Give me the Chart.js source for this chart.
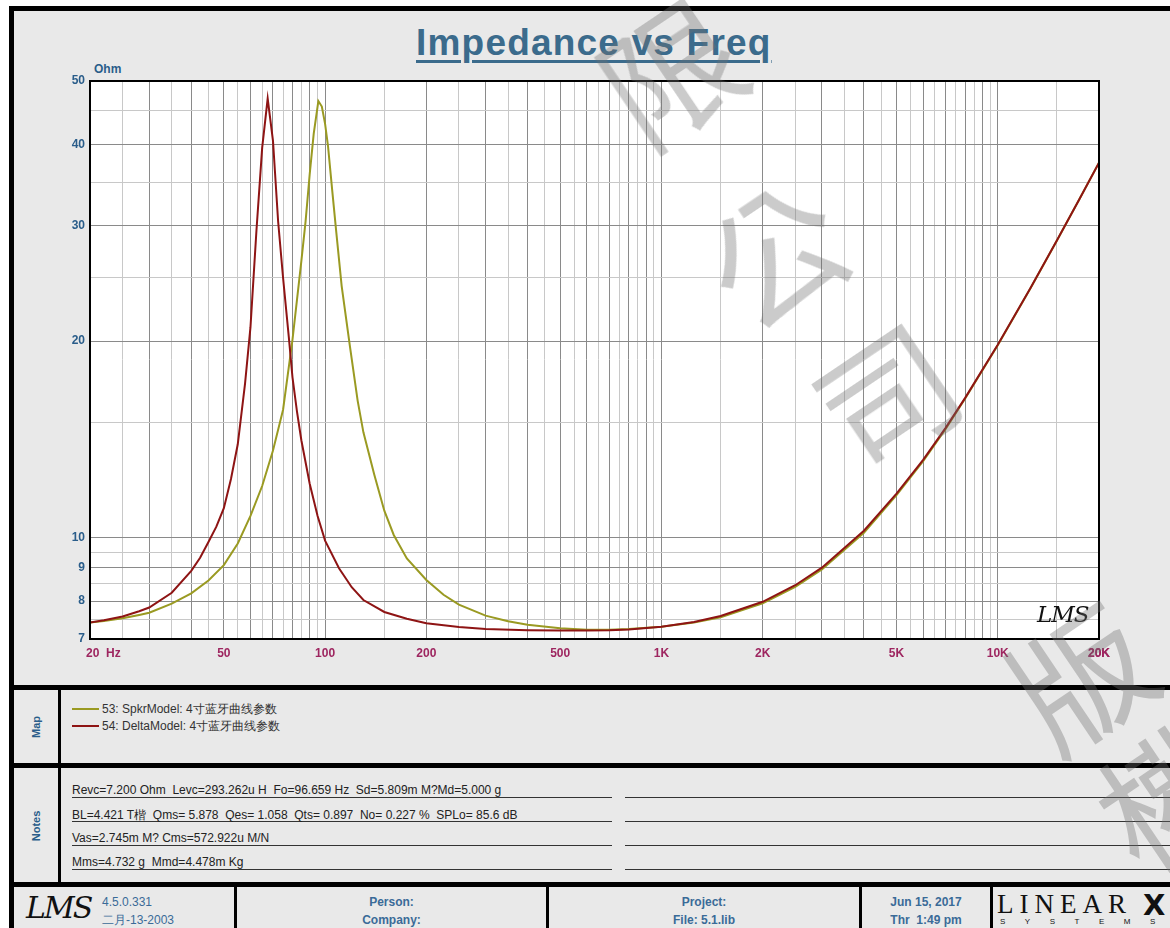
<!DOCTYPE html>
<html>
<head>
<meta charset="utf-8">
<script src="https://cdn.jsdelivr.net/npm/chart.js@4.4.0/dist/chart.umd.min.js"></script>
<style>
  body { margin: 0; width: 1170px; height: 928px; overflow: hidden; background: #fff; position: relative; font-family: "Liberation Sans", Arial, sans-serif; }
  .abs { position: absolute; }
  #frame { left: 9px; top: 6px; width: 1200px; height: 960px; border: 5px solid #000; background: #e9e9e9; box-sizing: border-box; }
  .bar { position: absolute; background: #000; }
  #title { left: 416px; top: 22px; font: bold 37px "Liberation Sans", Arial, sans-serif; letter-spacing: 1.2px; color: #3b6b8c; text-decoration: underline; text-decoration-thickness: 3px; text-underline-offset: 5px; white-space: nowrap; }
  #ohm { left: 94px; top: 62px; font: bold 12px "Liberation Sans", Arial, sans-serif; color: #2a5d8a; }
  #plotLogo { left: 1037px; top: 601px; font: italic 23px "DejaVu Serif", serif; color: #111; letter-spacing: -1px; }
  .side { font: bold 11px "Liberation Sans", Arial, sans-serif; color: #2a5d8a; transform: translate(-50%, -50%) rotate(-90deg); white-space: nowrap; }
  .leg { left: 72px; font: 12px "Liberation Sans", Arial, sans-serif; color: #333; white-space: pre; }
  .leg i { display: inline-block; width: 27px; height: 2px; vertical-align: middle; margin-right: 3px; position: relative; top: -1px; }
  .note { left: 72px; width: 540px; height: 14px; line-height: 14px; font: 12px "Liberation Sans", Arial, sans-serif; color: #222; border-bottom: 1px solid #333; white-space: pre; }
  .note2 { left: 625px; width: 560px; height: 14px; border-bottom: 1px solid #333; }
  .foot { font: bold 12px "Liberation Sans", Arial, sans-serif; color: #3a6b98; text-align: center; line-height: 18px; }
  .wm { position: absolute; font: 136px "Noto Sans CJK TC", sans-serif; color: rgba(110,110,110,0.36); transform: translate(-50%, -50%) rotate(-34deg); line-height: 1; pointer-events: none; z-index: 20; }
</style>
</head>
<body>
<div id="frame" class="abs"></div>

<canvas id="chart" class="abs" width="1170" height="686" style="left:0;top:0;z-index:2"></canvas>

<div id="title" class="abs">Impedance vs Freq</div>
<div id="ohm" class="abs">Ohm</div>
<div id="plotLogo" class="abs" style="z-index:3">LMS</div>

<!-- section separators -->
<div class="bar" style="left:9px;top:685px;width:1161px;height:5px"></div>
<div class="bar" style="left:9px;top:763px;width:1161px;height:5px"></div>
<div class="bar" style="left:9px;top:882px;width:1161px;height:5px"></div>
<div class="bar" style="left:58px;top:690px;width:3px;height:192px"></div>
<div class="bar" style="left:234px;top:887px;width:3px;height:41px"></div>
<div class="bar" style="left:546px;top:887px;width:3px;height:41px"></div>
<div class="bar" style="left:859px;top:887px;width:3px;height:41px"></div>
<div class="bar" style="left:990px;top:887px;width:3px;height:41px"></div>

<div class="abs side" style="left:36px;top:727px">Map</div>
<div class="abs side" style="left:36px;top:826px">Notes</div>

<div id="legend"></div>
<div id="notes"></div>

<!-- footer -->
<div class="abs" style="left:26px;top:890px;font:italic 30px 'DejaVu Serif',serif;color:#111;letter-spacing:-2px">LMS</div>
<div class="abs" style="left:102px;top:893px;font:12px 'Liberation Sans',Arial,sans-serif;color:#3a6b98;line-height:18px">4.5.0.331<br>二月-13-2003</div>
<div class="abs foot" style="left:237px;width:309px;top:893px">Person:<br>Company:</div>
<div class="abs foot" style="left:549px;width:310px;top:893px">Project:<br>File: 5.1.lib</div>
<div class="abs foot" style="left:862px;width:128px;top:893px;white-space:pre">Jun 15, 2017<br>Thr  1:49 pm</div>
<div class="abs" style="left:997px;top:889px;font:300 27px 'Liberation Serif',serif;letter-spacing:6px;color:#111">LINEAR</div>
<div class="abs" style="left:1143px;top:888px;font:900 29px 'DejaVu Sans',sans-serif;color:#111">X</div>
<div class="abs" style="left:1000px;top:917px;font:8px 'Liberation Sans',sans-serif;letter-spacing:19.5px;color:#111">SYSTEMS</div>

<!-- watermark -->
<div class="wm" style="left:560px;top:-95px">有</div>
<div class="wm" style="left:668px;top:68px">限</div>
<div class="wm" style="left:772px;top:250px">公</div>
<div class="wm" style="left:884px;top:392px">司</div>
<div class="wm" style="left:1078px;top:672px">版</div>
<div class="wm" style="left:1165px;top:792px">權</div>

<script>
// ---- data ----
const spkrFreq = [20, 22, 25, 28, 30, 35, 40, 45, 50, 55, 60, 65, 70, 75, 80, 85, 87.5, 90, 92.5, 95.5, 97.8,
  100, 102, 105, 108, 112, 118.6, 125, 130, 140, 150, 160, 175, 200, 225, 250, 300, 350, 400, 500, 600, 700, 800,
  1000, 1250, 1500, 2000, 2500, 3000, 4000, 5000, 6000, 7000, 8000, 10000, 12500, 15000, 17500, 20000];
const spkrOhm = [7.42, 7.46, 7.53, 7.62, 7.68, 7.93, 8.22, 8.6, 9.08, 9.8, 10.8, 12.0, 13.6, 15.7, 20.1, 26.5, 30.5, 36.0, 41.5, 46.6, 45.7,
  43.0, 39.8, 34.0, 29.3, 24.3, 19.6, 16.2, 14.5, 12.5, 11.0, 10.1, 9.3, 8.62, 8.18, 7.9, 7.6, 7.45, 7.36, 7.27, 7.23, 7.23, 7.25,
  7.31, 7.42, 7.56, 7.94, 8.41, 8.94, 10.18, 11.62, 13.1, 14.68, 16.33, 19.71, 24.06, 28.5, 33.0, 37.5];

const deltaFreq = [20, 22, 25, 28, 30, 35, 40, 42.5, 45, 47.5, 50, 52.5, 55, 57.8, 60, 62.5, 65, 67.5, 70, 72.5, 75, 78, 80, 82.5, 85, 90, 95,
  100, 110, 120, 130, 150, 175, 200, 250, 300, 400, 500, 600, 700, 800,
  1000, 1250, 1500, 2000, 2500, 3000, 4000, 5000, 6000, 7000, 8000, 10000, 12500, 15000, 17500, 20000];
const deltaOhm = [7.42, 7.48, 7.58, 7.72, 7.82, 8.24, 8.9, 9.32, 9.85, 10.4, 11.1, 12.3, 13.9, 17.2, 21.0, 29.5, 39.5, 47.0, 40.5, 30.5, 25.0, 20.3, 17.6, 15.6, 14.1, 12.1, 10.8,
  9.9, 8.98, 8.4, 8.03, 7.7, 7.52, 7.4, 7.3, 7.25, 7.22, 7.21, 7.21, 7.22, 7.24,
  7.31, 7.43, 7.59, 7.98, 8.46, 9.0, 10.25, 11.68, 13.16, 14.73, 16.37, 19.74, 24.08, 28.52, 33.0, 37.5];

const seriesNames = ["53: SpkrModel: 4寸蓝牙曲线参数", "54: DeltaModel: 4寸蓝牙曲线参数"];
const seriesColors = ["#9a9a22", "#8e1414"];

const xTickValues = [20, 50, 100, 200, 500, 1000, 2000, 5000, 10000, 20000];
const xTickLabels = ["        20  Hz", "50", "100", "200", "500", "1K", "2K", "5K", "10K", "20K"];
const yTickValues = [7, 8, 9, 10, 20, 30, 40, 50];
const yTickLabels = ["7", "8", "9", "10", "20", "30", "40", "50"];

// gridlines: every half step inside each decade
const gridSteps = [1, 1.5, 2, 2.5, 3, 3.5, 4, 4.5, 5, 5.5, 6, 6.5, 7, 7.5, 8, 8.5, 9, 9.5];
const xGrid = [];
[10, 100, 1000, 10000].forEach(d => gridSteps.forEach(k => { const v = d * k; if (v >= 20 && v <= 20000) xGrid.push(v); }));
xGrid.push(20000);
const yGrid = [];
[1, 10].forEach(d => gridSteps.forEach(k => { const v = d * k; if (v >= 7 && v <= 50) yGrid.push(v); }));

const noteLines = [
  "Revc=7.200 Ohm  Levc=293.262u H  Fo=96.659 Hz  Sd=5.809m M?Md=5.000 g",
  "BL=4.421 T楷  Qms= 5.878  Qes= 1.058  Qts= 0.897  No= 0.227 %  SPLo= 85.6 dB",
  "Vas=2.745m M? Cms=572.922u M/N",
  "Mms=4.732 g  Mmd=4.478m Kg"
];

// ---- legend + notes (html) ----
const legend = document.getElementById("legend");
seriesNames.forEach((name, i) => {
  const el = document.createElement("div");
  el.className = "abs leg";
  el.style.top = (701 + i * 17) + "px";
  el.innerHTML = '<i style="background:' + seriesColors[i] + '"></i>' + name;
  legend.appendChild(el);
});
const notes = document.getElementById("notes");
noteLines.forEach((txt, i) => {
  const a = document.createElement("div");
  a.className = "abs note";
  a.style.top = (783 + i * 24) + "px";
  a.textContent = txt;
  notes.appendChild(a);
  const b = document.createElement("div");
  b.className = "abs note2";
  b.style.top = (783 + i * 24) + "px";
  notes.appendChild(b);
});

// ---- chart ----
const isWhole = v => {
  const d = Math.pow(10, Math.floor(Math.log10(v) + 1e-9));
  const k = v / d;
  return Math.abs(k - Math.round(k)) < 1e-6;
};
const gridColor = ctx => (ctx.tick && isWhole(ctx.tick.value)) ? "#8a8a8a" : "#c8c8c8";

const plotFrame = {
  id: "plotFrame",
  beforeDraw(chart) {
    const a = chart.chartArea, c = chart.ctx;
    c.save();
    c.fillStyle = "#fff";
    c.fillRect(a.left, a.top, a.right - a.left, a.bottom - a.top);
    c.restore();
  },
  afterDraw(chart) {
    const a = chart.chartArea, c = chart.ctx;
    c.save();
    c.strokeStyle = "#000";
    c.lineWidth = 2;
    c.strokeRect(a.left, a.top, a.right - a.left, a.bottom - a.top);
    c.restore();
  }
};

const toPoints = (fs, zs) => fs.map((f, i) => ({ x: f, y: zs[i] }));

new Chart(document.getElementById("chart"), {
  type: "line",
  data: {
    datasets: [
      {
        label: seriesNames[0],
        data: toPoints(spkrFreq, spkrOhm),
        borderColor: seriesColors[0],
        borderWidth: 2,
        pointRadius: 0,
        tension: 0,
        order: 1
      },
      {
        label: seriesNames[1],
        data: toPoints(deltaFreq, deltaOhm),
        borderColor: seriesColors[1],
        borderWidth: 2,
        pointRadius: 0,
        tension: 0,
        order: 0
      }
    ]
  },
  options: {
    responsive: false,
    animation: false,
    devicePixelRatio: 1,
    layout: { padding: { left: 50, top: 81, right: 71, bottom: 17 } },
    plugins: { legend: { display: false }, tooltip: { enabled: false } },
    scales: {
      x: {
        type: "logarithmic",
        min: 20,
        max: 20000,
        afterBuildTicks: s => { s.ticks = xGrid.map(v => ({ value: v })); },
        afterFit: s => { s.height = 30; },
        grid: { color: gridColor, lineWidth: 1, drawTicks: false },
        border: { display: true, color: "#000", width: 2 },
        ticks: {
          autoSkip: false,
          maxRotation: 0,
          minRotation: 0,
          padding: 7,
          color: "#9e2660",
          font: { family: "Liberation Sans", size: 12, weight: "bold" },
          callback: v => {
            const i = xTickValues.findIndex(t => Math.abs(t - v) < 1e-6);
            return i >= 0 ? xTickLabels[i] : "";
          }
        }
      },
      y: {
        type: "logarithmic",
        min: 7,
        max: 50,
        afterBuildTicks: s => { s.ticks = yGrid.map(v => ({ value: v })); },
        afterFit: s => { s.width = 40; },
        grid: { color: gridColor, lineWidth: 1, drawTicks: false },
        border: { display: true, color: "#000", width: 2 },
        ticks: {
          autoSkip: false,
          padding: 5,
          color: "#2a5d8a",
          font: { family: "Liberation Sans", size: 12, weight: "bold" },
          callback: v => {
            const i = yTickValues.findIndex(t => Math.abs(t - v) < 1e-6);
            return i >= 0 ? yTickLabels[i] : "";
          }
        }
      }
    }
  },
  plugins: [plotFrame]
});
</script>
</body>
</html>
